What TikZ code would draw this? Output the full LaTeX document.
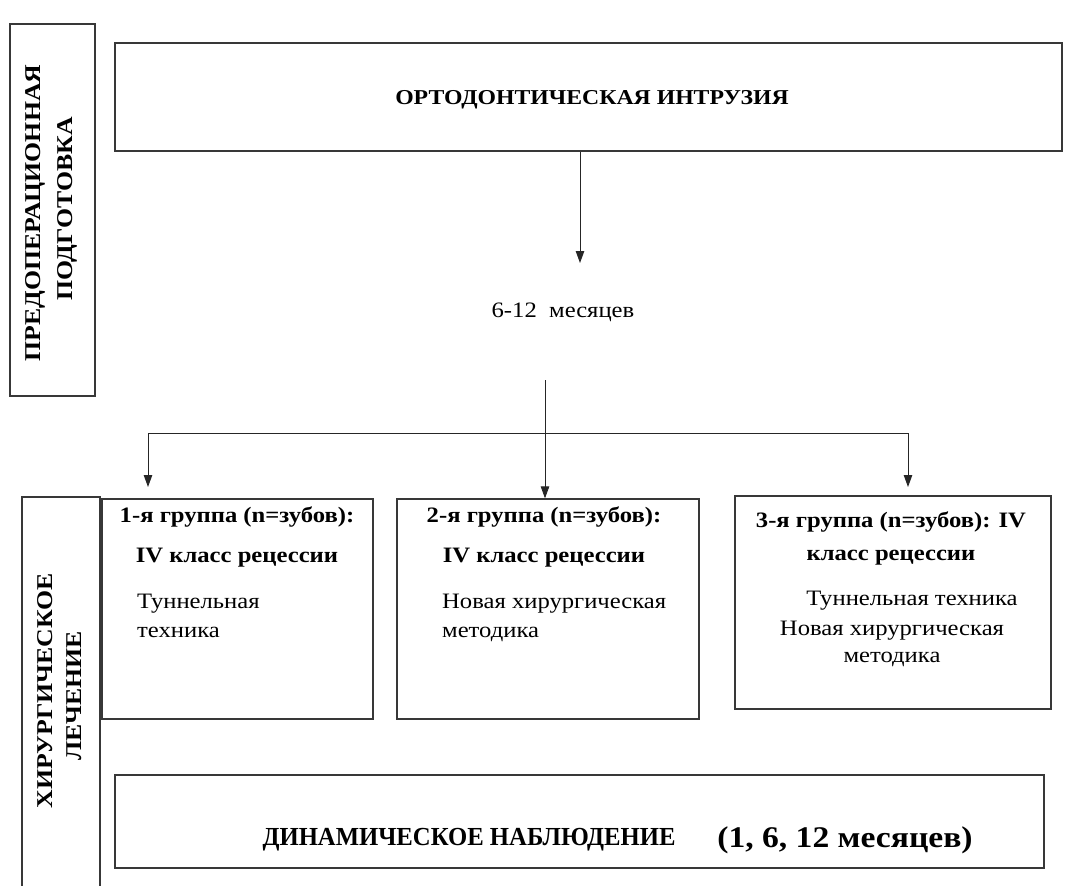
\documentclass[tikz,border=0pt]{standalone}
\usepackage{fontspec}
\setmainfont{Liberation Serif}
\newfontfamily\hfont[FakeStretch=1.12]{Liberation Serif}
\newfontfamily\rfont[FakeStretch=1.14]{Liberation Serif}
\newfontfamily\cfont[FakeStretch=0.95]{Liberation Serif}
\usetikzlibrary{arrows.meta}
\begin{document}
\begin{tikzpicture}[x=1pt,y=-1pt,
  box/.style={draw=black!78, line width=1.3pt, inner sep=0pt, rectangle},
  conn/.style={draw=black!85, line width=0.9pt},
  arr/.style={conn, -{Triangle[length=12pt,width=8.5pt]}},
  gtitle/.style={inner sep=0pt, anchor=base, font=\hfont\bfseries\fontsize{22}{26}\selectfont},
  gtext/.style={inner sep=0pt, font=\hfont\fontsize{22}{26}\selectfont},
  rtext/.style={inner sep=0pt, anchor=base, rotate=90, font=\rfont\bfseries\fontsize{22.6}{26}\selectfont}
]
\useasboundingbox (0,0) rectangle (1088,886);

% side boxes
\node[box, minimum width=85pt, minimum height=372pt] (pre) at (52.5,210) {};
\node[rtext] (preA) at (40.5,213) {ПРЕДОПЕРАЦИОННАЯ};
\node[rtext] (preB) at (72,209) {ПОДГОТОВКА};

\node[box, minimum width=78pt, minimum height=393pt] (sur) at (61,693.5) {};
\node[rtext] (surA) at (52.7,691) {ХИРУРГИЧЕСКОЕ};
\node[rtext] (surB) at (81.7,696) {ЛЕЧЕНИЕ};

% top box
\node[box, minimum width=947pt, minimum height=108pt] (top) at (588.5,97) {};
\node[gtitle, font=\hfont\bfseries\fontsize{21.2}{25}\selectfont] (topT) at (592,104) {ОРТОДОНТИЧЕСКАЯ ИНТРУЗИЯ};

% months
\node[gtext, anchor=base] (mon) at (563,317) {6-12~~месяцев};
\coordinate (a1) at (580,263);
\draw[arr] (top.south -| a1) -- (a1);

% groups
\node[box, minimum width=271pt, minimum height=220pt] (g1) at (237.5,609) {};
\node[box, minimum width=302pt, minimum height=220pt] (g2) at (548,609) {};
\node[box, minimum width=316pt, minimum height=213pt] (g3) at (893,602.5) {};

\node[gtitle] (g1a) at (237,522) {1-я группа (n=зубов):};
\node[gtitle] (g1b) at (237,562) {IV класс рецессии};
\node[gtext, anchor=base west] (g1c) at (137,608) {Туннельная};
\node[gtext, anchor=base west] (g1d) at (137,637) {техника};

\node[gtitle] (g2a) at (544,522) {2-я группа (n=зубов):};
\node[gtitle] (g2b) at (544,562) {IV класс рецессии};
\node[gtext, anchor=base west] (g2c) at (442,608) {Новая хирургическая};
\node[gtext, anchor=base west] (g2d) at (442,637) {методика};

\node[gtitle] (g3a) at (891,527) {3-я группа (n=зубов): IV};
\node[gtitle] (g3b) at (891,560) {класс рецессии};
\node[gtext, anchor=base] (g3c) at (912,605) {Туннельная техника};
\node[gtext, anchor=base] (g3d) at (892,635) {Новая хирургическая};
\node[gtext, anchor=base] (g3e) at (892,662) {методика};

% splitting connector
\coordinate (s0) at (545,380);
\coordinate (hL) at (148,433);
\coordinate (hR) at (908,433);
\coordinate (t1) at (148,487);
\coordinate (t3) at (908,487);
\draw[arr] (s0) -- (s0 |- g2.north);
\draw[conn] (hL) -- (hR);
\draw[arr] (hL) -- (t1);
\draw[arr] (hR) -- (t3);

% bottom box
\node[box, minimum width=929pt, minimum height=93pt] (obs) at (579.5,821.5) {};
\node[inner sep=0pt, anchor=base, font=\cfont\bfseries\fontsize{26}{30}\selectfont] (obsA) at (469,845) {ДИНАМИЧЕСКОЕ НАБЛЮДЕНИЕ};
\node[inner sep=0pt, anchor=base, font=\hfont\bfseries\fontsize{30}{34}\selectfont] (obsB) at (845,847) {(1, 6, 12 месяцев)};
\end{tikzpicture}
\end{document}
